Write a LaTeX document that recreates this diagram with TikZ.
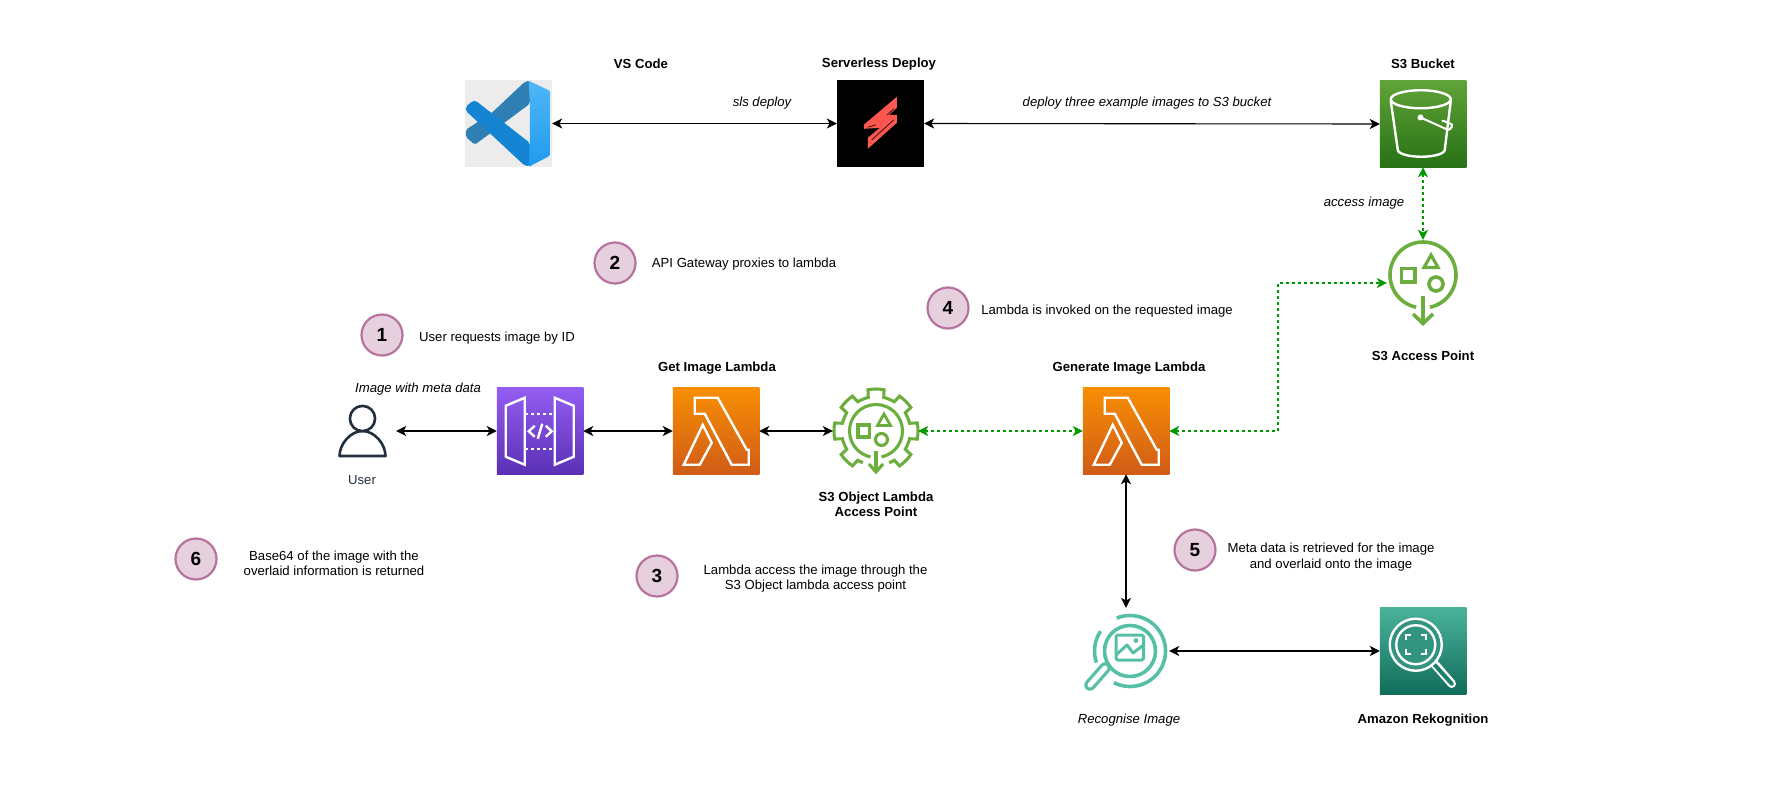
\documentclass[tikz,border=0pt]{standalone}
\usepackage{fontspec}
\setmainfont{Liberation Sans}
\usetikzlibrary{arrows.meta}
\definecolor{apgreen}{HTML}{6CAE3E}
\definecolor{recog}{HTML}{56C0A7}
\definecolor{linkgreen}{HTML}{009900}
\definecolor{stepfill}{HTML}{E6D0DE}
\definecolor{stepline}{HTML}{B5739D}
\definecolor{usernavy}{HTML}{232F3E}
\definecolor{F1}{HTML}{F78E04}
\definecolor{F2}{HTML}{D05C17}
\definecolor{V1}{HTML}{945DF2}
\definecolor{V2}{HTML}{5A30B5}
\definecolor{G1}{HTML}{60A337}
\definecolor{G2}{HTML}{277116}
\definecolor{T1}{HTML}{4AB29A}
\definecolor{T2}{HTML}{116D5B}
\definecolor{vsdark}{HTML}{2F7FB5}
\definecolor{vsfront}{HTML}{1584D2}
\definecolor{vslight}{HTML}{50B6F8}
\definecolor{vsmid}{HTML}{1E9CEF}
\definecolor{slsred}{HTML}{FD5750}
\definecolor{rekfill}{HTML}{32947F}
\definecolor{rekhandle}{HTML}{1F7E6A}
\tikzset{
  x=1pt,y=-1pt,
  lbl/.style={inner sep=0pt,font=\fontsize{13.15}{14.8}\selectfont,text height=9.6pt,text depth=2.8pt},
  boldlbl/.style={lbl,font=\fontsize{13.15}{14.8}\selectfont\bfseries},
  itlbl/.style={lbl,font=\fontsize{13.15}{14.8}\selectfont\itshape},
  steptext/.style={inner sep=0pt,align=center,font=\fontsize{13.15}{15.2}\selectfont},
  stepmark/.style={circle,draw=stepline,fill=stepfill,line width=2.2pt,minimum size=41pt,inner sep=0pt,font=\fontsize{19}{19}\selectfont\bfseries},
  awsbox/.style={rectangle,inner sep=0pt,outer sep=0pt,minimum size=86.5pt},
  lambdabox/.style={awsbox,top color=F1,bottom color=F2},
  plainbox/.style={rectangle,inner sep=0pt},
  link/.style={line width=1.1pt,{Stealth[length=10pt,width=10pt,inset=2.8pt]}-{Stealth[length=10pt,width=10pt,inset=2.8pt]}},
  greenlink/.style={link,linkgreen,dash pattern=on 3pt off 3pt},
  wht/.style={draw=white,line width=2.4pt,line join=miter},
  apstroke/.style={draw=apgreen,line width=3.6pt,line join=miter},
  rcstroke/.style={draw=recog,line width=3.6pt,line join=round},
}
\newcommand{\lambdaglyph}[1]{%
  \begin{scope}[shift={(#1)}]
    \draw[wht] (22,10)--(45,10)--(74,62)--(76,62)--(76,77)--(59,77)--(32,26)--(22,26)--cycle;
    \draw[wht] (30,37)--(39,55)--(27,77)--(11,77)--cycle;
  \end{scope}}
\begin{document}
\begin{tikzpicture}
\useasboundingbox (0,0) rectangle (1767,790);
% --- service boxes
\node[plainbox,minimum size=87pt,fill=black!7.5] (vs) at (508.5,123.5) {};
\node[plainbox,minimum width=87pt,minimum height=87pt,fill=black] (sls) at (880.5,123.5) {};
\node[awsbox,top color=G1,bottom color=G2] (s3) at (1423,124) {};
\node[plainbox,minimum width=72pt,minimum height=86pt] (ap) at (1423,283) {};
\node[plainbox,minimum width=58pt,minimum height=54pt] (user) at (367,431) {};
\node[awsbox,top color=V1,bottom color=V2] (api) at (540,431) {};
\node[lambdabox] (getl) at (716,431) {};
\node[plainbox,minimum width=85pt,minimum height=86pt] (obj) at (875.5,431) {};
\node[lambdabox] (genl) at (1126,431) {};
\node[plainbox,minimum size=86pt] (rec) at (1126,651) {};
\node[awsbox,top color=T1,bottom color=T2] (rek) at (1423,651) {};
% --- VS Code glyph
\begin{scope}[shift={(vs.north west)}]
  \fill[vsdark,rounded corners=2pt] (60,2) -- (65,1) -- (65,24) -- (10,65) -- (1,57) -- (1,50) -- (27,33) -- cycle;
  \fill[vsfront,rounded corners=2pt] (8,21) -- (11,21) -- (65,63) -- (65,86) -- (60,86) -- (1,31) -- (1,27) -- cycle;
  \shade[top color=vslight,bottom color=vsmid,rounded corners=1pt] (64,1) -- (85,11) -- (85,76) -- (64,87) -- (65,64) -- (65,24) -- cycle;
\end{scope}
% --- Serverless glyph
\begin{scope}[shift={(sls.north west)}]
  \fill[slsred] (60,17) -- (60,28) -- (52.3,35) -- (60,35) -- (60,43) -- (31,69) -- (31,58) -- (43,48) -- (27,49) -- (27,45) -- cycle;
  \draw[black,line width=.6pt] (57,29) -- (50.5,35) (39,45) -- (31,47.5) (57,40) -- (35,60);
\end{scope}
% --- S3 bucket glyph
\begin{scope}[shift={(s3.north west)}]
  \draw[wht] (41,18.5) ellipse[x radius=30pt,y radius=9pt];
  \draw[wht] (11,20) -- (18,69) arc[start angle=180,end angle=360,x radius=23.5pt,y radius=7pt] -- (71,20);
  \fill[white] (40.7,36.7) circle[radius=3pt];
  \draw[white,line width=2pt] (40.7,36.7) -- (68,49) to[out=-20,in=0,looseness=1.2] (71,43) to[out=180,in=25] (62,40.5);
\end{scope}
% --- access point glyph
\begin{scope}[shift={(1423,275)}]
  \draw[apstroke] (-78:33pt) arc[start angle=-78,end angle=258,radius=33pt];
  \draw[apstroke] (-21.5,-6.5) rectangle (-8,7);
  \draw[apstroke,line width=3.2pt] (8,-20) -- (15,-7.5) -- (1,-7.5) -- cycle;
  \draw[apstroke] (13,9) circle[radius=7pt];
  \draw[apstroke] (0,21) -- (0,48);
  \draw[apstroke] (-10,39) -- (0,48.5) -- (10,39);
\end{scope}
% --- user glyph
\begin{scope}[shift={(362.5,431)}]
  \draw[usernavy,line width=2.6pt,line join=round] (-23,25) to[out=90,in=180,looseness=.9] (0,0) to[out=0,in=90,looseness=.9] (23,25) -- cycle;
  \draw[usernavy,line width=2.6pt,fill=white] (0,-12.5) circle[radius=12.6pt];
\end{scope}
% --- API gateway glyph
\begin{scope}[shift={(api.north west)}]
  \draw[wht] (9,18)--(28,10)--(28,77)--(9,69)--cycle;
  \draw[wht] (58,10)--(77,18)--(77,69)--(58,77)--cycle;
  \draw[wht,dash pattern=on 3.5pt off 2.5pt] (28,26)--(58,26) (28,61)--(58,61);
  \draw[wht] (38,38)--(32,43.5)--(38,49) (49,38)--(55,43.5)--(49,49) (45.5,36)--(41,51);
\end{scope}
% --- lambda glyphs
\lambdaglyph{getl.north west}
\lambdaglyph{genl.north west}
% --- object lambda access point glyph
\begin{scope}[shift={(876,431)}]
  \foreach \a in {0,45,90,135,180,225,315}{
    \draw[apstroke,line width=3.1pt] (\a-22.5:34.5pt) arc[start angle=\a-22.5,end angle=\a-13,radius=34.5pt] -- (\a-11:42pt) arc[start angle=\a-11,end angle=\a+11,radius=42pt] -- (\a+13:34.5pt) arc[start angle=\a+13,end angle=\a+22.5,radius=34.5pt];
  }
  \draw[apstroke,line width=3.1pt] (-78:26.5pt) arc[start angle=-78,end angle=258,radius=26.5pt];
  \draw[apstroke,line width=3.1pt] (-18,-6) rectangle (-6.5,6);
  \draw[apstroke,line width=2.8pt] (8,-17) -- (14.5,-5.5) -- (1.5,-5.5) -- cycle;
  \draw[apstroke,line width=3.1pt] (5.5,8.5) circle[radius=6pt];
  \draw[apstroke,line width=3.1pt] (0,20) -- (0,41);
  \draw[apstroke,line width=3.1pt] (-7,33) -- (0,41) -- (7,33);
\end{scope}
% --- recognise glyph
\begin{scope}[shift={(1130,651)}]
  \draw[recog,line width=11.5pt,line cap=round] (-25,17) -- (-40,34);
  \draw[white,line width=5pt,line cap=round] (-25,17) -- (-40,34);
  \draw[rcstroke,fill=white] (0,0) circle[radius=25.5pt];
  \draw[rcstroke] (112:35.5pt) arc[start angle=112,end angle=-117,radius=35.5pt];
  \draw[rcstroke] (146:35.5pt) arc[start angle=146,end angle=199,radius=35.5pt];
  \draw[rcstroke,line width=3pt,rounded corners=1.5pt] (-14,-16) rectangle (13.5,9);
  \draw[rcstroke,line width=3pt] (-14,4) -- (-3,-6) -- (3,2) -- (13.5,-6);
  \fill[recog] (6,-10.5) circle[radius=2.4pt];
\end{scope}
% --- rekognition glyph
\begin{scope}[shift={(rek.north west)}]
  \draw[white,line width=8.5pt,line cap=round] (52,53) -- (72,76);
  \draw[rekhandle,line width=4pt,line cap=round] (53,55) -- (72,76);
  \draw[wht,fill=rekfill] (36,37) circle[radius=26pt];
  \draw[wht] (36,37) circle[radius=19.5pt];
  \draw[wht,line width=2pt] (26,32)--(26,27)--(31,27) (41,27)--(46,27)--(46,32) (46,41)--(46,46)--(41,46) (31,46)--(26,46)--(26,41);
\end{scope}
% --- connectors
\coordinate (bendb) at (1278,431);
\coordinate (bendt) at (1278,283);
\draw[link] (vs.east) -- (sls.west);
\draw[link] (sls.east) -- (s3.west);
\draw[greenlink] (s3.south) -- (ap.north);
\draw[greenlink] (genl.east) -- (bendb) -- (bendt) -- (ap.west);
\draw[link] (user.east) -- (api.west);
\draw[link] (api.east) -- (getl.west);
\draw[link] (getl.east) -- (obj.west);
\draw[greenlink] (obj.east) -- (genl.west);
\draw[link] (genl.south) -- (rec.north);
\draw[link] (rec.east) -- (rek.west);
% --- labels
\node[boldlbl] (tvs) at (641,65) {VS Code};
\node[boldlbl] (tsls) at (879,64.5) {Serverless Deploy};
\node[boldlbl] (ts3) at (1423,65) {S3 Bucket};
\node[itlbl] (tdep) at (762,103) {sls deploy};
\node[itlbl] (tthree) at (1147,103) {deploy three example images to S3 bucket};
\node[itlbl] (tacc) at (1364,203) {access image};
\node[boldlbl] (tap) at (1423,357) {S3 Access Point};
\node[itlbl] (tmeta) at (418,389) {Image with meta data};
\node[lbl,text=usernavy] (tuser) at (362,481) {User};
\node[boldlbl] (tgetl) at (717,368) {Get Image Lambda};
\node[boldlbl] (tgenl) at (1129,368) {Generate Image Lambda};
\node[inner sep=0pt,align=center,font=\fontsize{13.15}{14.7}\selectfont\bfseries] (tobj) at (876,504) {S3 Object Lambda\\Access Point};
\node[itlbl] (trec) at (1129,720) {Recognise Image};
\node[boldlbl] (trek) at (1423,720) {Amazon Rekognition};
% --- numbered steps
\node[stepmark] (s1) at (382,335) {1};
\node[stepmark] (s2) at (615,263) {2};
\node[stepmark] (s3m) at (657,576) {3};
\node[stepmark] (s4) at (948,308) {4};
\node[stepmark] (s5) at (1195,550) {5};
\node[stepmark] (s6) at (196,559) {6};
\node[steptext] (d1) at (497,338) {User requests image by ID};
\node[steptext] (d2) at (744,264.5) {API Gateway proxies to lambda};
\node[steptext] (d3) at (815.5,578.5) {Lambda access the image through the\\S3 Object lambda access point};
\node[steptext] (d4) at (1107,311) {Lambda is invoked on the requested image};
\node[steptext] (d5) at (1331,557) {Meta data is retrieved for the image\\and overlaid onto the image};
\node[steptext] (d6) at (334,563) {Base64 of the image with the\\overlaid information is returned};
\end{tikzpicture}
\end{document}
